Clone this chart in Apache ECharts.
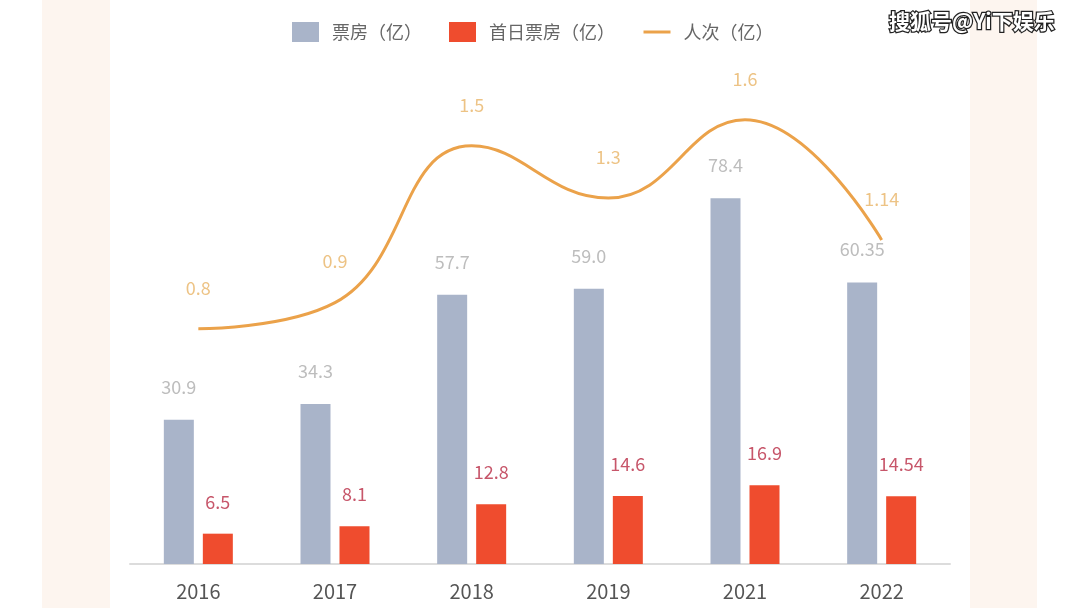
<!DOCTYPE html>
<html><head><meta charset="utf-8">
<script src="https://cdn.jsdelivr.net/npm/echarts@6/dist/echarts.min.js"></script>
<style>html,body{margin:0;padding:0;background:#fff}#c{width:1080px;height:608px}</style>
</head><body><div id="c"></div>
<script>
var categories = ['2016','2017','2018','2019','2021','2022'];
var boxOffice = [30.9, 34.3, 57.7, 59.0, 78.4, 60.35];
var boxOfficeLabels = ['30.9','34.3','57.7','59.0','78.4','60.35'];
var firstDay = [6.5, 8.1, 12.8, 14.6, 16.9, 14.54];
var firstDayLabels = ['6.5','8.1','12.8','14.6','16.9','14.54'];
var admissions = [0.8, 0.9, 1.5, 1.3, 1.6, 1.14];
var admissionsLabels = ['0.8','0.9','1.5','1.3','1.6','1.14'];
var seriesNames = ['票房（亿）','首日票房（亿）','人次（亿）'];

var font = "'Noto Sans CJK SC', 'Noto Sans', sans-serif";
var chart = echarts.init(document.getElementById('c'));
chart.setOption({
  backgroundColor: '#ffffff',
  animation: false,
  graphic: [
    {type:'rect', left:42, top:0, shape:{width:68, height:608}, style:{fill:'#fdf5ef'}, z:-10},
    {type:'rect', left:970, top:0, shape:{width:67, height:608}, style:{fill:'#fdf5ef'}, z:-10},
    {type:'text', right:24, top:9, z:100, style:{text:'搜狐号@Yi下娱乐', fill:'#ffffff', font:'bold 21px ' + font, stroke:'#222222', lineWidth:2.5}}
  ],
  legend: {
    top: 17, left: 287,
    itemWidth: 27, itemHeight: 20, itemGap: 27,
    textStyle: {color:'#666', fontSize:18, fontFamily: font, padding:[0,0,0,8]},
    data: [
      {name: seriesNames[0], icon:'rect'},
      {name: seriesNames[1], icon:'rect'},
      {name: seriesNames[2], itemStyle:{opacity:0}, lineStyle:{width:3}}
    ]
  },
  grid: {left:130, right:130, top:97.5, bottom:44},
  xAxis: {
    type:'category', data: categories,
    axisLine:{lineStyle:{color:'#dcdcdc', width:2}},
    axisTick:{show:false},
    axisLabel:{color:'#555', fontSize:20, margin:17, fontFamily: font}
  },
  yAxis: [
    {type:'value', min:0, max:100, show:false, splitLine:{show:false}},
    {type:'value', min:-0.1, max:1.685, show:false, splitLine:{show:false}}
  ],
  series: [
    {
      name: seriesNames[0], type:'bar', data: boxOffice, barWidth:30, barGap:'30%',
      itemStyle:{color:'#a9b4c9'},
      label:{show:true, position:'top', distance:24, color:'#bdbdbd', fontSize:18, fontFamily: font,
        formatter: function(p){return boxOfficeLabels[p.dataIndex];}}
    },
    {
      name: seriesNames[1], type:'bar', data: firstDay, barWidth:30,
      itemStyle:{color:'#ef4c2e'},
      label:{show:true, position:'top', distance:23, color:'#c7566a', fontSize:18, fontFamily: font,
        formatter: function(p){return firstDayLabels[p.dataIndex];}}
    },
    {
      name: seriesNames[2], type:'line', yAxisIndex:1, data: admissions, smooth:0.45,
      symbol:'none', lineStyle:{color:'#eba24a', width:3}, itemStyle:{color:'#eba24a'}
    },
    {
      name: 'admLabels', type:'scatter', yAxisIndex:1, data: admissions,
      symbolSize:0, silent:true,
      label:{show:true, position:'top', distance:32, color:'#e9b467', fontSize:18, fontFamily: font,
        formatter: function(p){return admissionsLabels[p.dataIndex];}}
    }
  ]
});
</script></body></html>
